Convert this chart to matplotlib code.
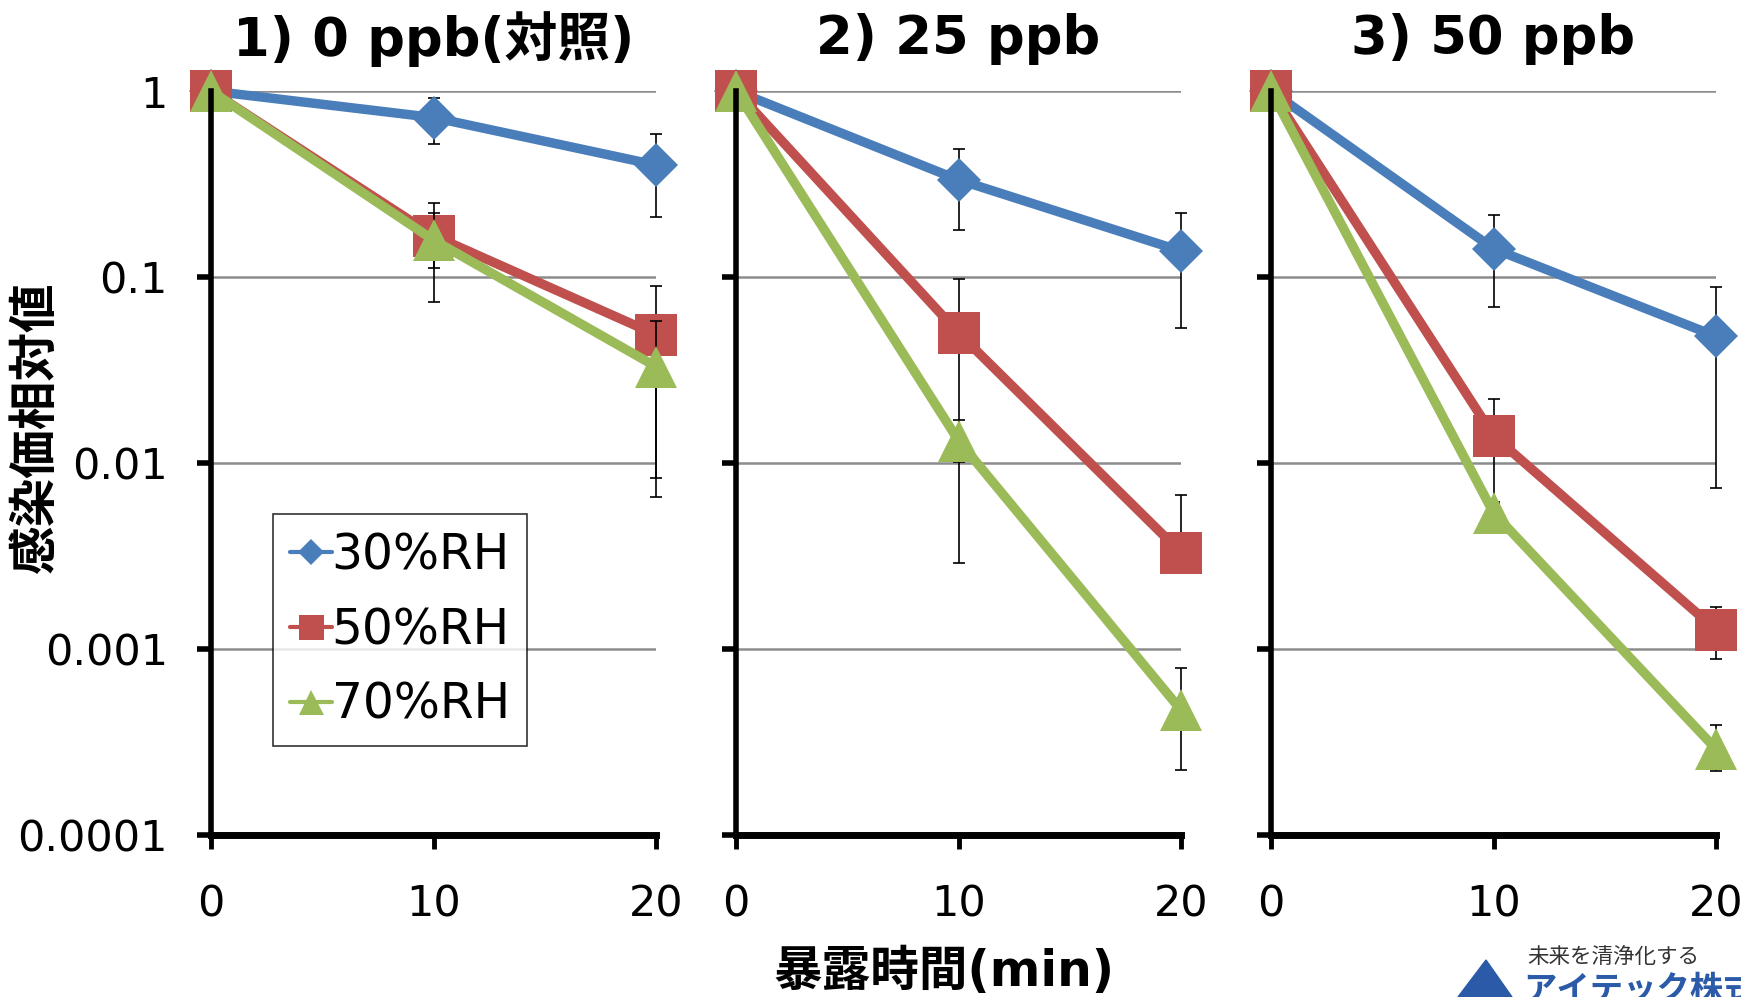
import matplotlib
matplotlib.use('Agg')
import matplotlib.pyplot as plt
from matplotlib.lines import Line2D
from matplotlib.patches import Polygon

plt.rcParams['font.family'] = ['DejaVu Sans', 'Noto Sans CJK JP']

# ---------------- data ----------------
times = [0, 10, 20]
series_labels = ['30%RH', '50%RH', '70%RH']
panel_titles = ['1) 0 ppb(対照)', '2) 25 ppb', '3) 50 ppb']
ytick_vals = [1, 0.1, 0.01, 0.001, 0.0001]
ytick_labels = ['1', '0.1', '0.01', '0.001', '0.0001']
xtick_vals = [0, 10, 20]
xtick_labels = ['0', '10', '20']
xlabel = '暴露時間(min)'
ylabel = '感染価相対値'

# panel 1: 0 ppb
p1_30 = [1, 0.72, 0.40]
p1_30_hi = [1, 0.92, 0.59]
p1_30_lo = [1, 0.52, 0.21]
p1_50 = [1, 0.167, 0.049]
p1_50_hi = [1, 0.25, 0.089]
p1_50_lo = [1, 0.073, 0.0066]
p1_70 = [1, 0.158, 0.033]
p1_70_hi = [1, 0.22, 0.058]
p1_70_lo = [1, 0.112, 0.0083]

# panel 2: 25 ppb
p2_30 = [1, 0.333, 0.138]
p2_30_hi = [1, 0.49, 0.22]
p2_30_lo = [1, 0.18, 0.053]
p2_50 = [1, 0.050, 0.0033]
p2_50_hi = [1, 0.098, 0.0067]
p2_50_lo = [1, 0.0029, 0.0031]
p2_70 = [1, 0.0132, 0.00047]
p2_70_hi = [1, 0.017, 0.00079]
p2_70_lo = [1, 0.0101, 0.000223]

# panel 3: 50 ppb
p3_30 = [1, 0.142, 0.048]
p3_30_hi = [1, 0.215, 0.088]
p3_30_lo = [1, 0.069, 0.0073]
p3_50 = [1, 0.014, 0.00127]
p3_50_hi = [1, 0.022, 0.00168]
p3_50_lo = [1, 0.006, 0.00088]
p3_70 = [1, 0.0054, 0.00029]
p3_70_hi = [1, 0.0062, 0.00039]
p3_70_lo = [1, 0.0046, 0.000222]

panels = [
    [(p1_30, p1_30_lo, p1_30_hi), (p1_50, p1_50_lo, p1_50_hi), (p1_70, p1_70_lo, p1_70_hi)],
    [(p2_30, p2_30_lo, p2_30_hi), (p2_50, p2_50_lo, p2_50_hi), (p2_70, p2_70_lo, p2_70_hi)],
    [(p3_30, p3_30_lo, p3_30_hi), (p3_50, p3_50_lo, p3_50_hi), (p3_70, p3_70_lo, p3_70_hi)],
]

# ---------------- style ----------------
colors = ['#4A7EBB', '#C0504D', '#9BBB59']
markers = ['D', 's', '^']
msizes = [22, 30, 30]
W, H = 1741, 997
fig = plt.figure(figsize=(W / 100, H / 100), dpi=100)

lefts = [211, 736, 1271]
ax_w = 445
ax_top, ax_bot = 91, 835

axes = []
for i, (left, panel) in enumerate(zip(lefts, panels)):
    ax = fig.add_axes([left / W, 1 - ax_bot / H, ax_w / W, (ax_bot - ax_top) / H])
    axes.append(ax)
    ax.set_yscale('log')
    ax.set_xlim(0, 20)
    ax.set_ylim(1e-4, 1)
    for y in ytick_vals[:-1]:
        ax.axhline(y, color='#8C8C8C', lw=1.8, zorder=1)
    for j, (vals, lo, hi) in enumerate(panel):
        yerr = [[v - l for v, l in zip(vals, lo)], [h - v for v, h in zip(vals, hi)]]
        ax.errorbar(times, vals, yerr=yerr, fmt='none', ecolor='black',
                    elinewidth=1.2, capsize=4, capthick=1.2, zorder=2 + j * 2,
                    clip_on=False)
        ax.plot(times, vals, color=colors[j], lw=6.8, marker=markers[j],
                ms=msizes[j], mec=colors[j], mew=0, zorder=3 + j * 2,
                clip_on=False, solid_joinstyle='miter')
    for s in ['top', 'right']:
        ax.spines[s].set_visible(False)
    ax.spines['left'].set_linewidth(4)
    ax.spines['bottom'].set_linewidth(5)
    ax.spines['left'].set_zorder(10)
    ax.spines['bottom'].set_zorder(10)
    ax.yaxis.set_minor_locator(matplotlib.ticker.NullLocator())
    ax.set_yticks(ytick_vals)
    ax.set_xticks(xtick_vals)
    ax.set_xticklabels(xtick_labels, fontsize=31)
    if i == 0:
        ax.set_yticklabels(ytick_labels, fontsize=31)
    else:
        ax.set_yticklabels([])
    ax.tick_params(axis='y', direction='out', length=10, width=4, pad=21)
    ax.tick_params(axis='x', direction='out', length=10, width=3.5, pad=25)
    ax.tick_params(which='minor', length=0)
    fig.text((left + ax_w / 2) / W, 1 - 39 / H, panel_titles[i], fontsize=38,
             fontweight='bold', ha='center', va='center')

# legend in first panel
handles = [Line2D([], [], color=c, lw=3, marker=m, ms=ms * 0.6, mew=0,
                  solid_capstyle='round')
           for c, m, ms in zip(colors, markers, msizes)]
leg = axes[0].legend(handles, series_labels, loc='upper left',
                     bbox_to_anchor=(0.14, 0.431), borderaxespad=0,
                     fontsize=35, frameon=True, fancybox=False,
                     handlelength=0.85, handletextpad=0.0, labelspacing=0.55,
                     borderpad=0.35)
leg.get_frame().set_edgecolor('black')
leg.get_frame().set_linewidth(1.2)
leg.set_zorder(20)

fig.text(944 / W, 1 - 972 / H, xlabel, fontsize=35, fontweight='bold',
         ha='center', va='center')
fig.text(36 / W, 1 - 427 / H, ylabel, fontsize=35, fontweight='bold',
         ha='center', va='center', rotation=90)

# logo (bottom right)
fig.text(1527 / W, 1 - 957 / H, '未来を清浄化する', fontsize=15.5,
         color='#333333', ha='left', va='center', family=['Noto Sans CJK JP'])
fig.text(1523 / W, 1 - 975 / H, 'アイテック株式会社', fontsize=24,
         fontweight='bold', color='#2B5BA8', ha='left', va='top',
         family=['Noto Sans CJK JP'])
tri = Polygon([(1458 / W, 0), (1486 / W, 1 - 960 / H), (1512 / W, 0)],
              closed=True, transform=fig.transFigure, color='#2B5BA8')
fig.patches.append(tri)

fig.savefig('out.png', dpi=100)
